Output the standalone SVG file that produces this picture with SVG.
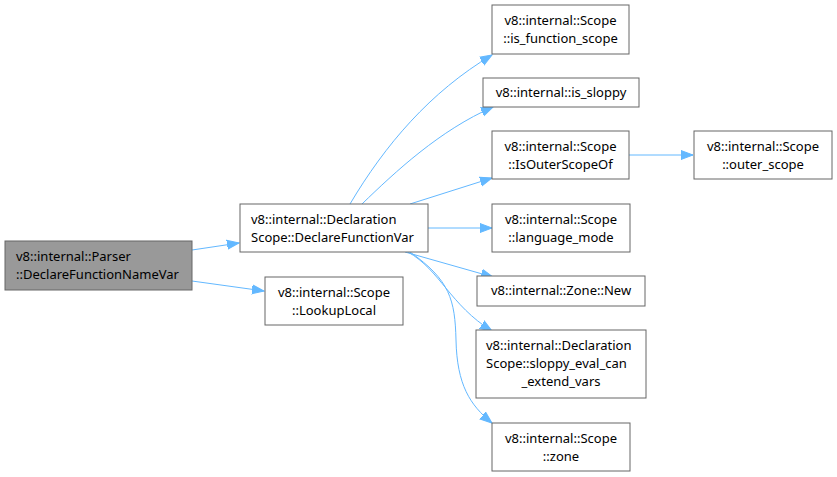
<svg xmlns="http://www.w3.org/2000/svg" width="837" height="477" viewBox="0 0 837 477">
<style>
.n rect{fill:#fff;stroke:#666;stroke-width:1}
.n.h rect{fill:#999}
.n text{font-family:"Noto Sans","DejaVu Sans",sans-serif;font-size:13px;fill:#000;text-anchor:middle}
.n text.l{text-anchor:start}
.e path{fill:none;stroke:#63b8ff;stroke-width:1}
</style>
<defs>
<marker id="a" markerUnits="userSpaceOnUse" markerWidth="14" markerHeight="12" refX="12" refY="5.5" orient="auto">
<path d="M0,1 L12,5.5 L0,10 Z" fill="#63b8ff" stroke="#63b8ff"/>
</marker>
</defs>
<g id="edges" class="e">
<path marker-end="url(#a)" d="M192,250 L239,243"/>
<path marker-end="url(#a)" d="M192,281 L264,291"/>
<path marker-end="url(#a)" d="M350,204 C385,145 430,92 492,55"/>
<path marker-end="url(#a)" d="M362,204 C395,172 440,130 493,107"/>
<path marker-end="url(#a)" d="M410,204 L492,178"/>
<path marker-end="url(#a)" d="M428,228 L492,228"/>
<path marker-end="url(#a)" d="M405,252 L493,277"/>
<path marker-end="url(#a)" d="M408,252 C440,270 450,305 492,331"/>
<path marker-end="url(#a)" d="M410,252 C450,280 455,300 456,340 C457,385 470,405 492,423"/>
<path marker-end="url(#a)" d="M629,155 L693,155"/>
</g>
<g id="n0" class="n h"><rect x="5" y="241" width="187" height="49"/><text class="l" x="16" y="261">v8::internal::Parser</text><text class="l" x="16" y="279">::DeclareFunctionNameVar</text></g>
<g id="n1" class="n"><rect x="240" y="204" width="188" height="48"/><text class="l" x="251" y="224">v8::internal::Declaration</text><text class="l" x="251" y="242">Scope::DeclareFunctionVar</text></g>
<g id="n2" class="n"><rect x="265" y="277" width="138" height="48"/><text x="334" y="297">v8::internal::Scope</text><text x="334" y="315">::LookupLocal</text></g>
<g id="n3" class="n"><rect x="492" y="5" width="137" height="49"/><text x="560.5" y="25">v8::internal::Scope</text><text x="560.5" y="43">::is_function_scope</text></g>
<g id="n4" class="n"><rect x="483" y="78" width="156" height="29"/><text x="561" y="97">v8::internal::is_sloppy</text></g>
<g id="n5" class="n"><rect x="492" y="131" width="137" height="48"/><text x="560.5" y="151">v8::internal::Scope</text><text x="560.5" y="169">::IsOuterScopeOf</text></g>
<g id="n6" class="n"><rect x="694" y="131" width="138" height="48"/><text x="763" y="151">v8::internal::Scope</text><text x="763" y="169">::outer_scope</text></g>
<g id="n7" class="n"><rect x="492" y="204" width="138" height="48"/><text x="561" y="224">v8::internal::Scope</text><text x="561" y="242">::language_mode</text></g>
<g id="n8" class="n"><rect x="477" y="276" width="168" height="30"/><text x="561" y="295">v8::internal::Zone::New</text></g>
<g id="n9" class="n"><rect x="476" y="330" width="170" height="68"/><text class="l" x="486" y="350">v8::internal::Declaration</text><text class="l" x="486" y="368">Scope::sloppy_eval_can</text><text x="561" y="386">_extend_vars</text></g>
<g id="n10" class="n"><rect x="492" y="423" width="138" height="48"/><text x="561" y="443">v8::internal::Scope</text><text x="561" y="461">::zone</text></g>
</svg>
